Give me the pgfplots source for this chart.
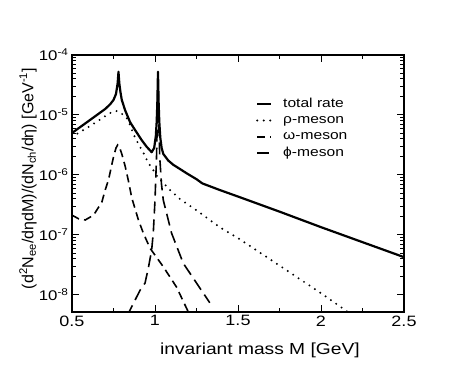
\documentclass[border=0pt]{standalone}
\usepackage{fontspec}
\setmainfont{Liberation Sans}[FakeStretch=1.2]
\newfontfamily\ylabfont{Liberation Sans}
\usepackage{pgfplots}
\pgfplotsset{compat=1.18}

\begin{document}
\begin{tikzpicture}
\begin{axis}[
  scale only axis, width=332pt, height=257pt,
  ymode=log, xmin=0.5, xmax=2.5, ymin=5.2e-9, ymax=1e-4,
  axis line style={line width=1.3pt},
  xtick={0.5,1,1.5,2,2.5}, xticklabels={0.5,1,1.5,2,2.5},
  minor x tick num=1,
  ytick={1e-8,1e-7,1e-6,1e-5,1e-4},
  yticklabels={10\textsuperscript{-8},10\textsuperscript{-7},10\textsuperscript{-6},10\textsuperscript{-5},10\textsuperscript{-4}},
  tick style={line width=1pt, black},
  major tick length=7pt, minor tick length=4pt,
  xticklabel style={font=\fontsize{15}{18}\selectfont},
  yticklabel style={font=\fontsize{14}{17}\selectfont},
  xlabel={invariant mass M [GeV]},
  ylabel={(d\textsuperscript{2}N\textsubscript{ee}/dηdM)/(dN\textsubscript{ch}/dη) [GeV\textsuperscript{-1}]},
  xlabel style={at={(rel axis cs:0.566,-0.167)}, anchor=base, font=\fontsize{16}{19}\selectfont},
  ylabel style={at={(rel axis cs:-0.1325,0.519)}, anchor=center, font=\ylabfont\fontsize{16}{19}\selectfont},
  legend cell align=left,
  legend image code/.code={\path[draw=none,fill=none] (0pt,0pt) rectangle (26pt,0pt); \draw[#1] (0pt,0pt) -- (14pt,0pt);},
  legend style={at={(rel axis cs:0.554,0.833)}, anchor=north west, draw=none, fill=none,
    inner sep=0pt, row sep=4.3pt,
    font=\fontsize{13}{15}\selectfont,
    nodes={inner sep=0pt, text height=9pt, text depth=3pt}},
]
% total rate
\addplot[black, line width=2.2pt, line join=round] coordinates {
(0.50,5.01e-6)(0.55,6.31e-6)(0.60,7.94e-6)(0.65,1.00e-5)(0.70,1.26e-5)
(0.73,1.51e-5)(0.75,1.78e-5)(0.765,2.24e-5)(0.775,3.39e-5)(0.78,5.25e-5)
(0.785,3.39e-5)(0.792,2.40e-5)(0.80,1.78e-5)(0.82,1.20e-5)(0.85,7.59e-6)
(0.88,5.62e-6)(0.92,3.80e-6)(0.95,2.95e-6)(0.98,2.40e-6)(0.995,2.82e-6)
(1.005,4.47e-6)(1.010,7.59e-6)(1.014,1.58e-5)(1.018,5.25e-5)(1.022,1.58e-5)
(1.026,7.59e-6)(1.032,4.17e-6)(1.040,2.82e-6)(1.05,2.24e-6)(1.08,1.74e-6)
(1.11,1.48e-6)(1.15,1.26e-6)(1.19,1.07e-6)(1.25,8.51e-7)(1.27,7.76e-7)
(1.285,7.24e-7)(1.39,5.62e-7)(1.50,4.37e-7)(1.75,2.45e-7)(2.00,1.35e-7)
(2.25,7.59e-8)(2.50,4.27e-8)
};
\addlegendentry{total rate}
% rho
\addplot[black, line width=2.2pt, line cap=round, dash pattern=on 0pt off 6.5pt] coordinates {
(0.50,4.27e-6)(0.55,5.25e-6)(0.60,6.31e-6)(0.65,7.76e-6)(0.70,9.55e-6)
(0.74,1.12e-5)(0.76,1.17e-5)(0.78,1.15e-5)(0.80,1.05e-5)(0.83,8.91e-6)
(0.85,6.76e-6)(0.88,4.17e-6)(0.93,2.34e-6)(0.96,1.58e-6)(0.99,1.20e-6)
(1.02,8.91e-7)(1.05,7.41e-7)(1.09,5.62e-7)(1.15,3.98e-7)(1.23,2.82e-7)
(1.39,1.35e-7)(1.51,8.51e-8)(1.75,3.09e-8)(2.00,1.07e-8)(2.16,5.25e-9)
(2.30,2.82e-9)
};
\addlegendentry{ρ-meson}
% omega
\addplot[black, line width=1.6pt, dash pattern=on 8pt off 5pt] coordinates {
(0.50,2.14e-7)(0.54,1.86e-7)(0.58,1.78e-7)(0.63,2.14e-7)(0.68,3.55e-7)
(0.70,5.62e-7)(0.72,8.32e-7)(0.75,2.00e-6)(0.765,2.82e-6)(0.775,3.16e-6)
(0.785,2.95e-6)(0.80,2.24e-6)(0.82,1.41e-6)(0.84,7.94e-7)(0.86,4.17e-7)
(0.90,1.78e-7)(0.93,1.07e-7)(0.97,6.03e-8)(1.05,2.95e-8)(1.13,1.35e-8)
(1.20,5.25e-9)(1.25,3.16e-9)
};
\addlegendentry{ω-meson}
% phi
\addplot[black, line width=1.6pt, dash pattern=on 12pt off 6pt] coordinates {
(0.83,4.47e-9)(0.85,5.62e-9)(0.91,1.20e-8)(0.94,1.58e-8)(0.96,2.82e-8)
(0.98,5.62e-8)(0.99,1.12e-7)(1.00,3.80e-7)(1.009,1.91e-6)(1.014,7.94e-6)
(1.016,1.58e-5)(1.018,3.98e-5)(1.020,1.58e-5)(1.023,6.76e-6)(1.029,1.91e-6)
(1.039,7.08e-7)(1.05,3.80e-7)(1.10,1.07e-7)(1.17,3.39e-8)(1.25,1.58e-8)
(1.33,7.41e-9)
};
\addlegendentry{ϕ-meson}
\coordinate (sw) at (rel axis cs:0,0);
\coordinate (ne) at (rel axis cs:1,1);
\end{axis}
\pgfresetboundingbox
\path[use as bounding box] ([shift={(-72pt,-56pt)}]sw) rectangle ([shift={(72pt,55pt)}]ne);
\end{tikzpicture}
\end{document}
